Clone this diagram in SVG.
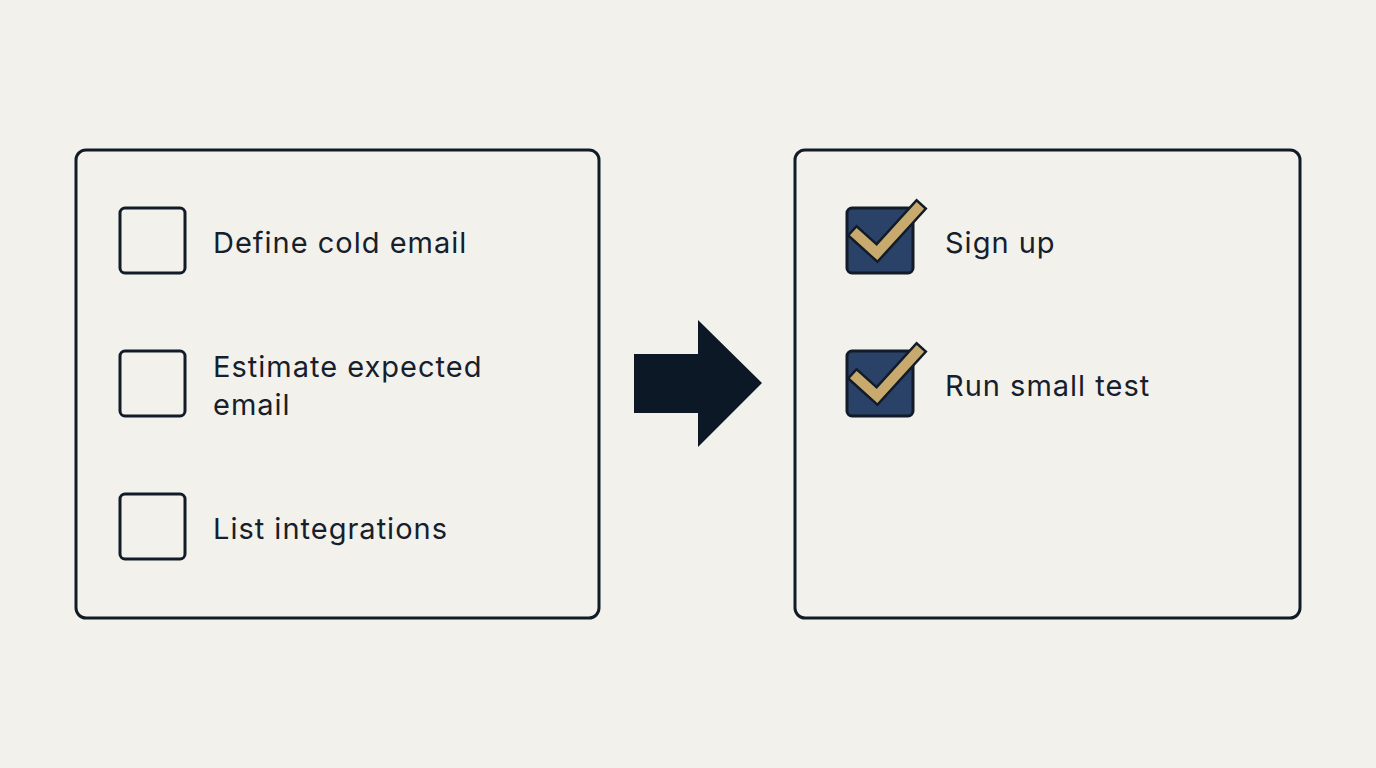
<svg xmlns="http://www.w3.org/2000/svg" width="1376" height="768" viewBox="0 0 1376 768">
<style>
.panel{fill:#f3f1eb;stroke:#111c28;stroke-width:3}
.box{fill:none;stroke:#111c28;stroke-width:3}
.cbox{fill:#2b4268;stroke:#111c28;stroke-width:3}
.ck-o{fill:none;stroke:#111c28;stroke-width:15;stroke-linecap:square;stroke-linejoin:miter}
.ck-i{fill:none;stroke:#c9aa6e;stroke-width:10;stroke-linecap:square;stroke-linejoin:miter}
.t{font-family:Inter,"Liberation Sans",sans-serif;font-size:29px;letter-spacing:1px;fill:#16202c}
</style>
<rect width="1376" height="768" fill="#f3f1eb"/>
<g id="todo-panel">
<rect class="panel" x="76" y="150" width="523" height="468" rx="10"/>
</g>
<g id="todo-1">
<rect class="box" x="120" y="208" width="65" height="65" rx="5"/>
<text class="t" x="213" y="253">Define cold email</text>
</g>
<g id="todo-2">
<rect class="box" x="120" y="351" width="65" height="65" rx="5"/>
<text class="t" x="213" y="377">Estimate expected</text>
<text class="t" x="213" y="415">email</text>
</g>
<g id="todo-3">
<rect class="box" x="120" y="494" width="65" height="65" rx="5"/>
<text class="t" x="213" y="539">List integrations</text>
</g>
<g id="connectors">
<polygon points="634,354 698,354 698,320 762,383 698,447 698,413 634,413" fill="#0c1825"/>
</g>
<g id="done-panel">
<rect class="panel" x="795" y="150" width="505" height="468" rx="10"/>
</g>
<g id="done-1">
<rect class="cbox" x="847" y="208" width="66" height="65" rx="5"/>
<path class="ck-o" d="M857,235 L877,253 L917,209"/>
<path class="ck-i" d="M857,235 L877,253 L917,209"/>
<text class="t" x="945" y="253">Sign up</text>
</g>
<g id="done-2">
<rect class="cbox" x="847" y="351" width="66" height="65" rx="5"/>
<path class="ck-o" d="M857,378 L877,396 L917,352"/>
<path class="ck-i" d="M857,378 L877,396 L917,352"/>
<text class="t" x="945" y="396">Run small test</text>
</g>
</svg>
